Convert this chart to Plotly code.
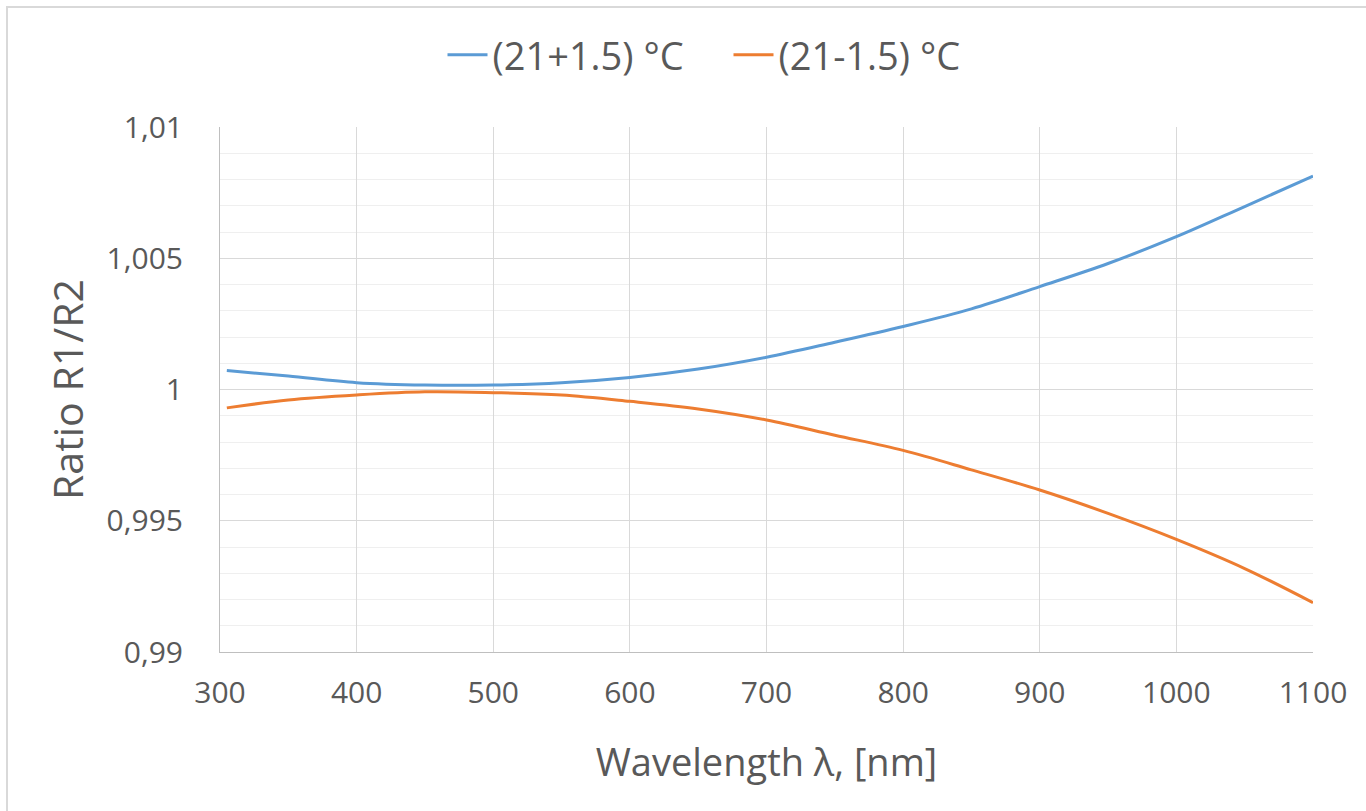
import plotly.graph_objects as go

wavelength = [305, 350, 400, 450, 500, 550, 600, 650, 700, 750, 800, 850, 900, 950, 1000, 1050, 1100]
ratio_plus = [1.00072, 1.00051, 1.00026, 1.00017, 1.00017, 1.00026, 1.00046, 1.00078, 1.00123, 1.00180,
              1.00240, 1.00307, 1.00392, 1.00480, 1.00582, 1.00697, 1.00813]
ratio_minus = [0.99930, 0.99960, 0.99979, 0.99991, 0.99988, 0.99979, 0.99955, 0.99926, 0.99884, 0.99826,
               0.99768, 0.99694, 0.99617, 0.99528, 0.99429, 0.99318, 0.99188]
series_names = ["(21+1.5) °C", "(21-1.5) °C"]
x_ticks = [300, 400, 500, 600, 700, 800, 900, 1000, 1100]
y_ticks = [0.99, 0.995, 1.0, 1.005, 1.01]
y_ticktext = ["0,99", "0,995", "1", "1,005", "1,01"]

FONT = "Open Sans"
TXT = "#595959"

fig = go.Figure()
fig.add_trace(go.Scatter(x=wavelength, y=ratio_plus, mode="lines", name=series_names[0],
                         line=dict(color="#5B9BD5", width=3, shape="spline")))
fig.add_trace(go.Scatter(x=wavelength, y=ratio_minus, mode="lines", name=series_names[1],
                         line=dict(color="#ED7D31", width=3, shape="spline")))

fig.update_layout(
    width=1366, height=811, autosize=False,
    margin=dict(l=220, r=53, t=127, b=159, autoexpand=False),
    paper_bgcolor="white", plot_bgcolor="white",
    font=dict(family=FONT, color=TXT, size=30),
    showlegend=True,
    legend=dict(orientation="h", x=0.5 - 38 / 1093, xanchor="center", y=(652 - 55) / 525, yanchor="middle",
                font=dict(size=38, color=TXT), itemwidth=40, entrywidth=231,
                bgcolor="rgba(0,0,0,0)"),
    xaxis=dict(range=[300, 1100], tickvals=x_ticks, showgrid=True, gridcolor="#D9D9D9", gridwidth=1,
               showline=True, linecolor="#BFBFBF", linewidth=1, mirror=False, zeroline=False,
               ticks="", ticklabelstandoff=14, tickfont=dict(size=30, color=TXT),
               title=dict(text="Wavelength \u03bb, [nm]", font=dict(size=38, color=TXT), standoff=38)),
    yaxis=dict(range=[0.99, 1.01], tickvals=y_ticks, ticktext=y_ticktext, showgrid=True,
               gridcolor="#D9D9D9", gridwidth=1, showline=True, linecolor="#BFBFBF", linewidth=1,
               zeroline=False, ticks="", ticklabelstandoff=30, tickfont=dict(size=30, color=TXT),
               minor=dict(dtick=0.001, showgrid=True, gridcolor="#EFEFEF", gridwidth=1),
               title=dict(text="Ratio R1/R2", font=dict(size=41, color=TXT), standoff=10)),
    shapes=[dict(type="rect", xref="paper", yref="paper",
                 x0=(7 - 220) / 1093, x1=(1380 - 220) / 1093,
                 y0=(652 - 820) / 525, y1=(652 - 7) / 525,
                 line=dict(color="#D9D9D9", width=2), fillcolor="rgba(0,0,0,0)", layer="below")],
)

fig.write_html("out.html")
